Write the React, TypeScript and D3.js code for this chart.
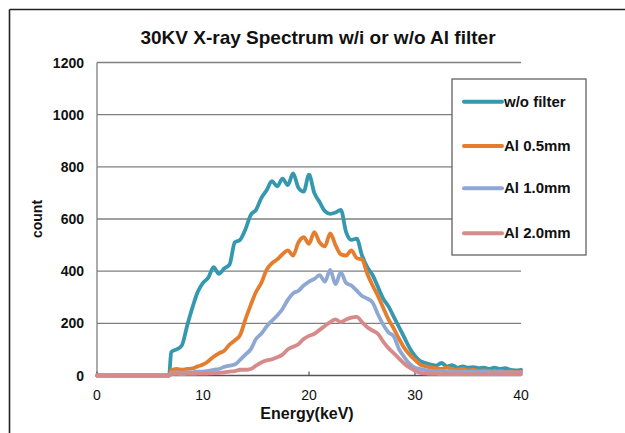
import React from "react";
import * as d3 from "d3";

const energy = [0, 6.5, 6.8, 7, 7.5, 8, 8.5, 9, 9.5, 10, 10.5, 11, 11.5, 12, 12.5, 13, 13.5, 14, 14.5, 15, 15.5, 16, 16.5, 17, 17.5, 18, 18.5, 19, 19.5, 20, 20.5, 21, 21.5, 22, 22.5, 23, 23.5, 24, 24.5, 25, 25.5, 26, 26.5, 27, 27.5, 28, 28.5, 29, 29.5, 30, 30.5, 31, 31.5, 32, 32.5, 33, 33.5, 34, 34.5, 35, 35.5, 36, 36.5, 37, 37.5, 38, 38.5, 39, 39.5, 40];

const noFilter = [0, 0, 0, 90, 100, 115, 190, 260, 320, 355, 375, 415, 390, 410, 425, 510, 520, 560, 615, 635, 680, 710, 745, 725, 755, 730, 775, 720, 705, 770, 700, 665, 630, 620, 625, 635, 550, 520, 525, 460, 415, 385, 340, 295, 265, 225, 185, 145, 105, 75, 55, 48, 42, 38, 48, 35, 40, 30, 35, 30, 32, 28, 30, 25, 30, 25, 28, 22, 20, 22];

const al05 = [0, 0, 0, 20, 25, 22, 25, 27, 35, 42, 55, 72, 85, 95, 118, 135, 155, 215, 270, 320, 355, 405, 430, 445, 465, 480, 460, 510, 530, 505, 550, 510, 495, 545, 500, 465, 460, 480, 450, 445, 390, 345, 305, 260, 215, 180, 140, 105, 80, 60, 42, 35, 30, 28, 25, 30, 25, 22, 25, 20, 22, 18, 20, 18, 16, 18, 15, 16, 14, 15];

const al10 = [0, 0, 0, 10, 12, 10, 12, 12, 15, 15, 18, 22, 25, 33, 38, 42, 60, 80, 100, 140, 160, 188, 210, 230, 255, 290, 315, 325, 345, 360, 370, 385, 360, 405, 350, 395, 355, 345, 325, 305, 295, 280, 235, 195, 165, 150, 100, 70, 45, 30, 25, 20, 18, 16, 18, 15, 16, 14, 15, 14, 15, 13, 14, 13, 12, 13, 12, 12, 11, 12];

const al20 = [0, 0, 0, 5, 6, 5, 6, 6, 7, 7, 8, 9, 10, 12, 15, 17, 22, 22, 25, 38, 50, 58, 62, 70, 80, 100, 110, 120, 140, 152, 160, 175, 190, 205, 215, 205, 215, 222, 225, 205, 185, 172, 160, 130, 105, 85, 65, 45, 30, 18, 10, 8, 6, 6, 5, 5, 5, 5, 5, 5, 5, 5, 5, 5, 5, 5, 5, 5, 5, 5];

const seriesNames = ["w/o filter", "Al 0.5mm", "Al 1.0mm", "Al 2.0mm"];
const seriesColors = ["#3498AE", "#E47E2E", "#8FA8D3", "#D68A8A"];
const seriesData = [noFilter, al05, al10, al20];

const xTicks = [0, 10, 20, 30, 40];
const yTicks = [0, 200, 400, 600, 800, 1000, 1200];

const FONT = "'Liberation Sans', Arial, Helvetica, sans-serif";

export default function App() {
  const x = d3.scaleLinear().domain([0, 40]).range([97, 521]);
  const y = d3.scaleLinear().domain([0, 1200]).range([375.5, 62.5]);
  const line = d3
    .line<number>()
    .x((_, i) => x(energy[i]))
    .y((d) => y(d))
    .curve(d3.curveMonotoneX);

  const legendX = 452;
  const legendY = 79;
  const legendW = 134;
  const legendH = 176;
  const rowY = [101.7, 146, 188.3, 233.3];

  return (
    <svg
      width={625}
      height={433}
      style={{ position: "absolute", left: 0, top: 0, background: "#fff" }}
      fontFamily={FONT}
    >
      <rect x={0} y={0} width={625} height={433} fill="#fff" />
      {/* frame */}
      <line x1={9.5} y1={9.5} x2={625} y2={9.5} stroke="#222" strokeWidth={1.6} />
      <line x1={9.5} y1={9.5} x2={9.5} y2={433} stroke="#222" strokeWidth={1.6} />

      {/* title */}
      <text x={318} y={44} textAnchor="middle" fontSize={19} fontWeight="bold" fill="#111">
        30KV X-ray Spectrum  w/i or w/o Al filter
      </text>

      {/* gridlines */}
      {yTicks.slice(1).map((t) => (
        <line key={t} x1={x(0)} x2={x(40)} y1={y(t)} y2={y(t)} stroke="#7f7f7f" strokeWidth={1.3} />
      ))}

      {/* y axis */}
      <line x1={x(0)} x2={x(0)} y1={y(0)} y2={y(1200)} stroke="#7f7f7f" strokeWidth={1.3} />
      {yTicks.map((t) => (
        <text key={t} x={84} y={y(t) + 5} textAnchor="end" fontSize={14} fontWeight="bold" fill="#111">
          {t}
        </text>
      ))}
      <text
        transform={`translate(42,${(y(0) + y(1200)) / 2}) rotate(-90)`}
        textAnchor="middle"
        fontSize={14}
        fontWeight="bold"
        fill="#111"
      >
        count
      </text>

      {/* x axis */}
      <line x1={x(0)} x2={x(40)} y1={y(0)} y2={y(0)} stroke="#555" strokeWidth={1.3} />
      {xTicks.map((t) => (
        <g key={t}>
          <line x1={x(t)} x2={x(t)} y1={y(0)} y2={y(0) - 4} stroke="#555" strokeWidth={1.2} />
          <text x={x(t)} y={y(0) + 24} textAnchor="middle" fontSize={14} fill="#111">
            {t}
          </text>
        </g>
      ))}
      <text x={307} y={419} textAnchor="middle" fontSize={16} fontWeight="bold" fill="#111">
        Energy(keV)
      </text>

      {/* series */}
      {seriesData.map((s, i) => (
        <path
          key={seriesNames[i]}
          d={line(s) || ""}
          fill="none"
          stroke={seriesColors[i]}
          strokeWidth={3.8}
          strokeLinejoin="round"
          strokeLinecap="round"
        />
      ))}

      {/* legend */}
      <rect x={legendX} y={legendY} width={legendW} height={legendH} fill="#fff" stroke="#555" strokeWidth={1.2} />
      {seriesNames.map((n, i) => (
        <g key={n}>
          <line x1={464} x2={502} y1={rowY[i]} y2={rowY[i]} stroke={seriesColors[i]} strokeWidth={4} strokeLinecap="round" />
          <text x={504} y={rowY[i] + 5} fontSize={15} fontWeight="bold" fill="#111">
            {n}
          </text>
        </g>
      ))}
    </svg>
  );
}
